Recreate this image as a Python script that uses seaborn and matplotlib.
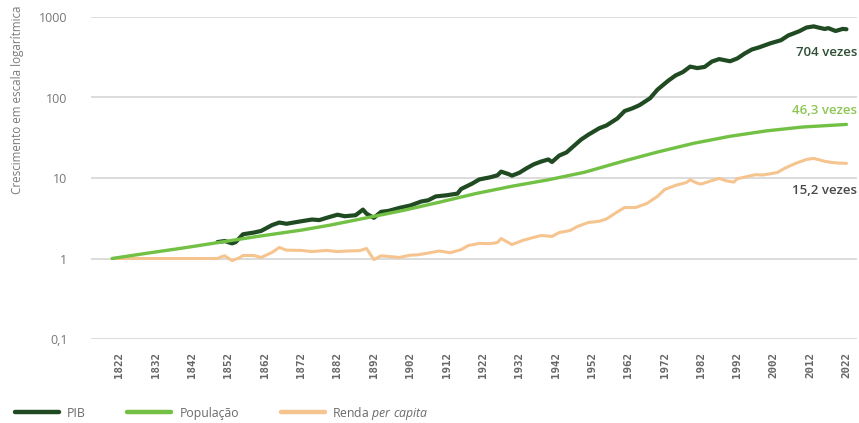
import matplotlib
matplotlib.use("Agg")
import matplotlib.pyplot as plt
import seaborn as sns
import pandas as pd

# Growth indices (1820 = 1); GDP only departs from population from 1849 onwards
pib_years = [1849, 1851, 1853, 1854, 1856, 1859, 1861, 1864, 1866, 1868,
             1870, 1872, 1875, 1877, 1879, 1882, 1884, 1887, 1889, 1890, 1892, 1894, 1896, 1899,
             1902, 1905, 1907, 1909, 1912, 1915, 1916, 1919, 1921, 1924, 1926, 1927, 1929, 1930,
             1932, 1934, 1936, 1938, 1940, 1941, 1943, 1945, 1947, 1949, 1951, 1954, 1956, 1959,
             1961, 1963, 1965, 1968, 1970, 1973, 1975, 1977, 1979, 1981, 1983, 1985, 1987, 1990,
             1992, 1994, 1996, 1998, 2001, 2004, 2006, 2009, 2011, 2013, 2014, 2016, 2017, 2019,
             2021, 2022]
pib = [1.6, 1.65, 1.54, 1.6, 2.0, 2.1, 2.2, 2.6, 2.8, 2.7,
       2.8, 2.9, 3.05, 3.0, 3.2, 3.5, 3.35, 3.45, 4.05, 3.6, 3.2, 3.8, 3.9, 4.25,
       4.55, 5.1, 5.3, 5.9, 6.1, 6.4, 7.3, 8.5, 9.6, 10.2, 10.8, 12.0, 11.2, 10.7,
       11.6, 13.2, 14.8, 16.0, 17.0, 15.8, 19.0, 20.8, 25.0, 30.0, 34.5, 41.5, 45.0, 55.0,
       68.0, 73.0, 80.0, 98.0, 125.0, 162.0, 188.0, 207.0, 242.0, 232.0, 240.0, 280.0, 300.0, 282.0,
       306.0, 352.0, 395.0, 420.0, 470.0, 515.0, 590.0, 665.0, 740.0, 765.0, 745.0, 710.0, 728.0, 670.0,
       712.0, 704.0]

pop_years = [1820, 1830, 1840, 1850, 1860, 1872, 1880, 1890, 1900, 1910, 1920, 1930, 1940,
             1950, 1960, 1970, 1980, 1990, 2000, 2010, 2022]
pop = [1.0, 1.17, 1.36, 1.6, 1.88, 2.25, 2.6, 3.2, 3.95, 5.0, 6.4, 7.9, 9.5,
       11.8, 15.9, 21.0, 27.0, 33.0, 38.5, 43.0, 46.3]

renda_years = [1820, 1849, 1850, 1851, 1853, 1855, 1856, 1859, 1861, 1864, 1866, 1868, 1872,
               1875, 1879, 1882, 1885, 1888, 1890, 1892, 1894, 1896, 1899, 1902, 1904, 1907,
               1910, 1913, 1915, 1916, 1918, 1921, 1924, 1926, 1927, 1930, 1933, 1936, 1938,
               1941, 1943, 1946, 1948, 1951, 1954, 1956, 1959, 1961, 1964, 1967, 1970, 1972,
               1975, 1978, 1979, 1981, 1982, 1985, 1987, 1989, 1991, 1992, 1995, 1997, 1999,
               2003, 2005, 2008, 2011, 2013, 2015, 2016, 2018, 2020, 2022]
renda = [1.0, 1.0, 1.05, 1.08, 0.94, 1.02, 1.09, 1.09, 1.03, 1.19, 1.37, 1.27, 1.26,
         1.22, 1.26, 1.22, 1.24, 1.25, 1.33, 0.97, 1.08, 1.06, 1.03, 1.1, 1.11, 1.17,
         1.24, 1.18, 1.25, 1.29, 1.45, 1.54, 1.53, 1.58, 1.77, 1.49, 1.68, 1.83, 1.93,
         1.88, 2.1, 2.23, 2.5, 2.8, 2.9, 3.1, 3.8, 4.3, 4.3, 4.8, 5.9, 7.2,
         8.1, 8.8, 9.5, 8.6, 8.4, 9.3, 9.9, 9.2, 8.9, 9.8, 10.5, 11.0, 10.9,
         11.7, 13.2, 15.2, 17.0, 17.5, 16.6, 16.1, 15.6, 15.3, 15.2]

tick_years = list(range(1822, 2023, 10))
y_ticks = [0.1, 1, 10, 100, 1000]
y_tick_labels = ["0,1", "1", "10", "100", "1000"]

c_pib = "#1f4a22"
c_pop = "#72c044"
c_renda = "#f6c48f"

sns.set_theme(style="white")
plt.rcParams["font.family"] = ["Open Sans", "DejaVu Sans"]
plt.rcParams["mathtext.fontset"] = "custom"
plt.rcParams["mathtext.rm"] = "Open Sans"
plt.rcParams["mathtext.it"] = "Open Sans:italic"

fig = plt.figure(figsize=(8.59, 4.23), dpi=100)
ax = fig.add_axes([91 / 859, 1 - 339 / 423, (857 - 91) / 859, (339 - 17) / 423])

df_pib = pd.DataFrame({"ano": pib_years, "v": pib})
df_pop = pd.DataFrame({"ano": pop_years, "v": pop})
df_renda = pd.DataFrame({"ano": renda_years, "v": renda})

sns.lineplot(data=df_pib, x="ano", y="v", ax=ax, color=c_pib, linewidth=3.0,
             label="PIB", zorder=2, solid_capstyle="round")
sns.lineplot(data=df_pop, x="ano", y="v", ax=ax, color=c_pop, linewidth=2.4,
             label="População", zorder=3, solid_capstyle="round")
sns.lineplot(data=df_renda, x="ano", y="v", ax=ax, color=c_renda, linewidth=2.2,
             label=r"Renda $\mathit{per\ capita}$", zorder=2, solid_capstyle="round")

ax.set_yscale("log")
ax.set_ylim(0.1, 1000)
ax.set_xlim(1814.2, 2024.9)
ax.set_yticks(y_ticks)
ax.set_yticklabels(y_tick_labels)
ax.yaxis.set_minor_locator(matplotlib.ticker.NullLocator())
ax.set_xticks(tick_years)
ax.set_xticklabels([str(y) for y in tick_years], rotation=90,
                   fontfamily="DejaVu Sans Mono", fontweight="bold", fontsize=7.8, color="#666666")
ax.tick_params(axis="x", length=0, pad=9)
ax.tick_params(axis="y", length=0, pad=17, labelsize=9, labelcolor="#777777")
ax.set_xlabel("")
ax.set_ylabel("")
for s in ax.spines.values():
    s.set_visible(False)
ax.grid(axis="y", color="#dcdcdc", linewidth=1.4)
ax.grid(axis="x", visible=False)

fig.text(18 / 859, 1 - 5 / 423, "Crescimento em escala logarítmica", rotation=90,
         ha="center", va="top", fontsize=8.4, color="#7a7a7a")

def fmt(v):
    return f"{v:g}".replace(".", ",") + " vezes"

ax.text(2024.9, 364, fmt(pib[-1]), ha="right", va="center", fontsize=9.5,
        color="#2f4f35", fontweight="semibold")
ax.text(2024.9, 69, fmt(pop[-1]), ha="right", va="center", fontsize=9.5,
        color="#8cc653", fontweight="semibold")
ax.text(2024.9, 7.0, fmt(renda[-1]), ha="right", va="center", fontsize=9.5,
        color="#4a4a4a", fontweight="semibold")

handles, labels = ax.get_legend_handles_labels()
ax.get_legend().remove()
leg = fig.legend(handles, labels, loc="center left", bbox_to_anchor=(15 / 859, 1 - 413 / 423),
                 ncol=3, frameon=False, fontsize=8.8, handlelength=3.6, handletextpad=0.65,
                 columnspacing=3.4, borderpad=0, borderaxespad=0)
for t in leg.get_texts():
    t.set_color("#6a6a6a")
for h in leg.legend_handles:
    h.set_linewidth(3.2)

fig.savefig("out.png", dpi=100)
